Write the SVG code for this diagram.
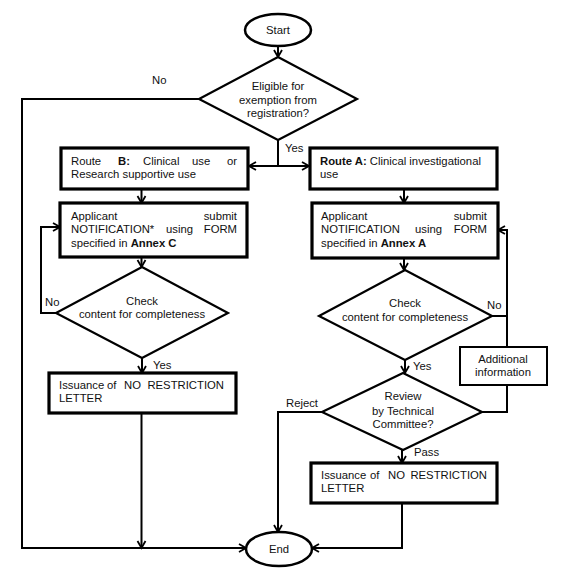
<svg xmlns="http://www.w3.org/2000/svg" width="572" height="574" viewBox="0 0 572 574">
<style>
text{font-family:"Liberation Sans",Arial,sans-serif;font-size:11.3px;fill:#111}
.b{font-weight:bold}
.m{text-anchor:middle}
.e{text-anchor:end}
.box{fill:#fff;stroke:#000;stroke-width:3.2}
.thin{fill:#fff;stroke:#000;stroke-width:2}
.dia{fill:#fff;stroke:#000;stroke-width:2.2}
.term{fill:#fff;stroke:#000;stroke-width:2.5}
.c{fill:none;stroke:#000;stroke-width:2}
.a{marker-end:url(#arr)}
</style>
<defs>
<marker id="arr" markerUnits="userSpaceOnUse" markerWidth="12" markerHeight="12" refX="8" refY="5" orient="auto">
<path d="M1,1 L8,5 L1,9" fill="none" stroke="#000" stroke-width="1.8"/>
</marker>
</defs>
<rect width="572" height="574" fill="#fff"/>
<g id="connectors">
<path class="c a" d="M278,46 L278,57"/>
<path class="c a" d="M199,99 L22,99 L22,548 L246,548"/>
<path class="c" d="M278,140 L278,166"/>
<path class="c a" d="M278,166 L249,166"/>
<path class="c a" d="M278,166 L309,166"/>
<path class="c a" d="M141.5,189 L141.5,203"/>
<path class="c a" d="M141.5,257 L141.5,267"/>
<path class="c a" d="M56,313 L41,313 L41,227 L60,227"/>
<path class="c a" d="M142,358 L142,373"/>
<path class="c a" d="M141.5,413 L141.5,548"/>
<path class="c a" d="M404,189 L404,203"/>
<path class="c a" d="M404,258 L404,270"/>
<path class="c a" d="M405,360 L405,373"/>
<path class="c" d="M492,316 L507,316"/>
<path class="c a" d="M507,347 L507,230 L498,230"/>
<path class="c" d="M482,412 L507,412 L507,385"/>
<path class="c a" d="M322,412 L278,412 L278,532"/>
<path class="c a" d="M402,450 L402,463"/>
<path class="c a" d="M402,503 L402,548 L312,548"/>
<text x="152" y="84">No</text>
<text x="285" y="152">Yes</text>
<text x="45" y="306">No</text>
<text x="153" y="369">Yes</text>
<text x="487" y="309">No</text>
<text x="413" y="370">Yes</text>
<text x="318" y="407" class="e">Reject</text>
<text x="414" y="456">Pass</text>
</g>
<g id="start">
<ellipse class="term" cx="278" cy="30" rx="33" ry="16"/>
<text x="278" y="34" class="m">Start</text>
</g>
<g id="eligible">
<polygon class="dia" points="278,57 357,99 278,140 199,99"/>
<text x="278" y="90" class="m">Eligible for</text>
<text x="278" y="104" class="m">exemption from</text>
<text x="278" y="117" class="m">registration?</text>
</g>
<g id="routeB">
<rect class="box" x="61" y="148" width="187" height="41"/>
<text x="71" y="165">Route</text>
<text x="118" y="165" class="b">B:</text>
<text x="143" y="165">Clinical</text>
<text x="192" y="165">use</text>
<text x="237" y="165" class="e">or</text>
<text x="71" y="178">Research supportive use</text>
</g>
<g id="routeA">
<rect class="box" x="310" y="148" width="187" height="41"/>
<text x="320" y="165"><tspan class="b">Route A:</tspan> Clinical investigational</text>
<text x="320" y="178">use</text>
</g>
<g id="annexC">
<rect class="box" x="60" y="203" width="187" height="54"/>
<text x="71" y="220">Applicant</text>
<text x="237" y="220" class="e">submit</text>
<text x="71" y="233">NOTIFICATION*</text>
<text x="166" y="233">using</text>
<text x="237" y="233" class="e">FORM</text>
<text x="71" y="247">specified in <tspan class="b">Annex C</tspan></text>
</g>
<g id="annexA">
<rect class="box" x="312" y="203" width="186" height="55"/>
<text x="321" y="220">Applicant</text>
<text x="487" y="220" class="e">submit</text>
<text x="321" y="233">NOTIFICATION</text>
<text x="415" y="233">using</text>
<text x="487" y="233" class="e">FORM</text>
<text x="321" y="247">specified in <tspan class="b">Annex A</tspan></text>
</g>
<g id="checkB">
<polygon class="dia" points="142,267 228,313 142,358 56,313"/>
<text x="142" y="305" class="m">Check</text>
<text x="142" y="318" class="m">content for completeness</text>
</g>
<g id="checkA">
<polygon class="dia" points="405,270 492,316 405,360 319,316"/>
<text x="405" y="307" class="m">Check</text>
<text x="405" y="321" class="m">content for completeness</text>
</g>
<g id="additional">
<rect class="thin" x="460" y="347" width="87" height="38"/>
<text x="503" y="363" class="m">Additional</text>
<text x="503" y="376" class="m">information</text>
</g>
<g id="issuanceB">
<rect class="box" x="49" y="373" width="187" height="40"/>
<text x="59" y="389">Issuance</text>
<text x="107" y="389">of</text>
<text x="124" y="389">NO</text>
<text x="224" y="389" class="e">RESTRICTION</text>
<text x="59" y="402">LETTER</text>
</g>
<g id="review">
<polygon class="dia" points="403,373 482,412 403,450 322,412"/>
<text x="403" y="400" class="m">Review</text>
<text x="403" y="415" class="m">by Technical</text>
<text x="403" y="428" class="m">Committee?</text>
</g>
<g id="issuanceA">
<rect class="box" x="311" y="463" width="186" height="40"/>
<text x="321" y="479">Issuance</text>
<text x="370" y="479">of</text>
<text x="388" y="479">NO</text>
<text x="487" y="479" class="e">RESTRICTION</text>
<text x="321" y="492">LETTER</text>
</g>
<g id="end">
<ellipse class="term" cx="279" cy="549" rx="33" ry="17"/>
<text x="279" y="553" class="m">End</text>
</g>
</svg>
